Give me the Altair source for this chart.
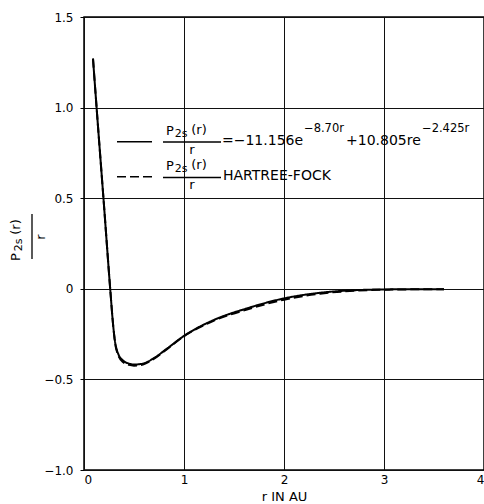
import altair as alt
import pandas as pd

# values
r_vals = [0.09, 0.13, 0.20, 0.262, 0.293, 0.31, 0.343, 0.393, 0.45, 0.50, 0.59, 0.69, 0.83, 1.0, 1.29, 1.63, 2.0, 2.36, 2.74, 3.1, 3.6]
model_vals = [1.27, 0.97, 0.46, 0.0, -0.21, -0.29, -0.36, -0.397, -0.413, -0.418, -0.413, -0.386, -0.33, -0.26, -0.174, -0.108, -0.053, -0.022, -0.007, -0.003, -0.002]
hf_vals = [1.27, 0.97, 0.46, 0.0, -0.21, -0.295, -0.368, -0.405, -0.42, -0.424, -0.418, -0.39, -0.333, -0.262, -0.178, -0.114, -0.06, -0.027, -0.01, -0.004, -0.002]
series_names = ["model", "hf"]
x_ticks = [0, 1, 2, 3, 4]
y_ticks = [-1.0, -0.5, 0.0, 0.5, 1.0, 1.5]

df = pd.DataFrame({"r": r_vals, "model": model_vals, "hf": hf_vals})
one = pd.DataFrame({"a": [0]})

FONT = "DejaVu Sans"
xs = alt.Scale(domain=[0, 4], nice=False, zero=False)
ys = alt.Scale(domain=[-1.0, 1.5], nice=False, zero=False)

curves = alt.Chart(df).transform_fold(series_names, as_=["series", "val"]).mark_line(
    color="black", strokeWidth=2, interpolate="monotone").encode(
    x=alt.X("r:Q", scale=xs, axis=alt.Axis(values=x_ticks, format="d", title="r IN AU",
                                             ticks=False, labelPadding=4, titlePadding=5,
                                             titleFontSize=13, titleFontWeight="normal")),
    y=alt.Y("val:Q", scale=ys, axis=alt.Axis(values=y_ticks, title=None, tickSize=4, labelPadding=7,
                                               labelExpr="datum.value == 0 ? '0' : format(datum.value, '.1f')")),
    strokeDash=alt.StrokeDash("series:N", scale=alt.Scale(domain=series_names, range=[[1, 0], [9, 4]]),
                              legend=None),
    detail="series:N",
)


def txt(s, x, y, size=12, align="left", angle=0):
    return alt.Chart(one).mark_text(text=s, font=FONT, fontSize=size, align=align, baseline="middle",
                                    angle=angle, color="black").encode(x=alt.value(x), y=alt.value(y))


def rule(x1, x2, y1, y2, dash=None, w=1.3):
    kw = dict(color="black", strokeWidth=w)
    if dash:
        kw["strokeDash"] = dash
    return alt.Chart(one).mark_rule(**kw).encode(x=alt.value(x1), x2=alt.value(x2),
                                                 y=alt.value(y1), y2=alt.value(y2))


ann = [
    # legend entry 1
    rule(33, 68, 124.7, 124.7, w=1.5),
    txt("P", 86, 114, 13, "center"),
    txt("2s", 97, 117, 11, "center"),
    txt("(r)", 115, 113, 13, "center"),
    rule(79, 137, 125, 125),
    txt("r", 108, 133, 13, "center"),
    txt("=\u221211.156e", 138, 124, 14),
    txt("\u22128.70r", 220, 112, 11.5),
    txt("+10.805re", 262, 124, 14),
    txt("\u22122.425r", 338, 112, 11.5),
    # legend entry 2
    rule(33, 69, 159.7, 159.7, dash=[9, 4], w=1.5),
    txt("P", 86, 149, 13, "center"),
    txt("2s", 97, 152, 11, "center"),
    txt("(r)", 115, 148, 13, "center"),
    rule(79, 137, 160.5, 160.5),
    txt("r", 108, 168, 13, "center"),
    txt("HARTREE-FOCK", 139, 159, 14),
    # y axis title (rotated fraction)
    txt("P", -68, 240, 13, "center", 270),
    txt("2s", -65, 228, 11, "center", 270),
    txt("(r)", -68, 210, 13, "center", 270),
    rule(-52, -52, 197, 242),
    txt("r", -43, 220, 13, "center", 270),
]

chart = alt.layer(curves, *ann).properties(
    width=400, height=453,
    padding={"left": 84, "top": 17, "right": 0, "bottom": 34},
    autosize=alt.AutoSizeParams(type="none"),
    background="white",
).configure_view(stroke="black", strokeWidth=1.5).configure_axis(
    grid=True, gridColor="#111", gridWidth=1, gridOpacity=1, domain=False,
    tickColor="black", labelFont=FONT, labelFontSize=12, labelColor="black",
    titleFont=FONT, titleColor="black",
)

chart.save("out.html", embed_options={"renderer": "svg", "actions": False})
